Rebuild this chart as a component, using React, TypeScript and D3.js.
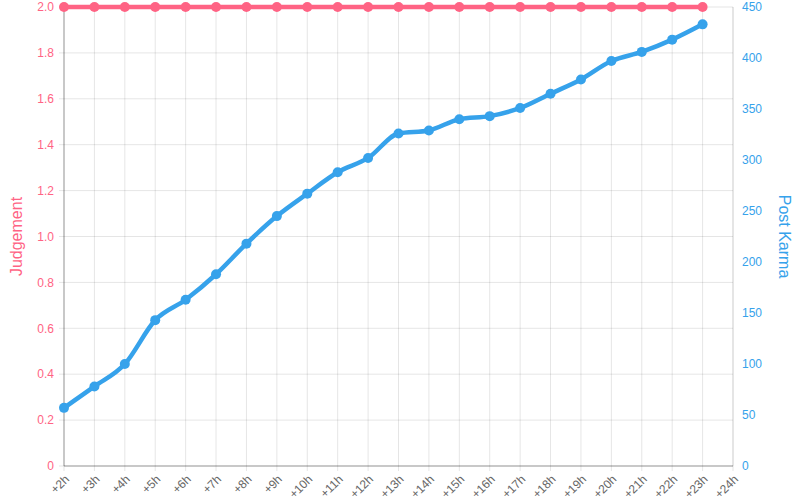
import React from "react";
import * as d3 from "d3";

const labels = ["+2h","+3h","+4h","+5h","+6h","+7h","+8h","+9h","+10h","+11h","+12h","+13h","+14h","+15h","+16h","+17h","+18h","+19h","+20h","+21h","+22h","+23h","+24h"];
const judgement = [2,2,2,2,2,2,2,2,2,2,2,2,2,2,2,2,2,2,2,2,2,2];
const postKarma = [57,78,100,143,163,188,218,245,267,288,302,326,329,340,343,351,365,379,397,406,418,433];
const leftTicks = [0,0.2,0.4,0.6,0.8,1.0,1.2,1.4,1.6,1.8,2.0];
const rightTicks = [0,50,100,150,200,250,300,350,400,450];

const PINK = "#ff6384";
const BLUE = "#36a2eb";
const FONT = "'Liberation Sans', Arial, sans-serif";

export default function App() {
  const W = 800, H = 500;
  const left = 64, right = 733, top = 7, bottom = 466;
  const x = d3.scalePoint<string>().domain(labels).range([left, right]);
  const yL = d3.scaleLinear().domain([0, 2]).range([bottom, top]);
  const yR = d3.scaleLinear().domain([0, 450]).range([bottom, top]);
  const lineL = d3.line<number>().x((_, i) => x(labels[i])!).y(d => yL(d));
  const lineR = d3.line<number>().x((_, i) => x(labels[i])!).y(d => yR(d));
  const fmtL = (v: number) => (v === 0 ? "0" : v.toFixed(1));

  return (
    <svg width={W} height={H} style={{ position: "absolute", left: 0, top: 0 }} fontFamily={FONT}>
      {labels.map(l => (
        <line key={"vg" + l} x1={x(l)} x2={x(l)} y1={top} y2={bottom + 5} stroke="rgba(0,0,0,0.1)" strokeWidth={1} />
      ))}
      {leftTicks.map(t => (
        <line key={"hg" + t} x1={left - 5} x2={right} y1={yL(t)} y2={yL(t)} stroke="rgba(0,0,0,0.1)" strokeWidth={1} />
      ))}
      <line x1={left} x2={left} y1={top} y2={bottom} stroke="rgba(0,0,0,0.35)" />
      <line x1={right} x2={right} y1={top} y2={bottom} stroke="rgba(0,0,0,0.1)" />
      <line x1={left} x2={right} y1={bottom} y2={bottom} stroke="rgba(0,0,0,0.35)" />
      {leftTicks.map(t => (
        <text key={"lt" + t} x={left - 10} y={yL(t)} dy="0.35em" textAnchor="end" fill={PINK} fontSize={12}>{fmtL(t)}</text>
      ))}
      {rightTicks.map(t => (
        <text key={"rt" + t} x={right + 9} y={yR(t)} dy="0.35em" textAnchor="start" fill={BLUE} fontSize={12}>{t}</text>
      ))}
      {labels.map(l => (
        <text key={"xl" + l} transform={`translate(${x(l)! + 3},${bottom + 11}) rotate(-45)`} textAnchor="end" dy="0.35em" fill="#666" fontSize={12}>{l}</text>
      ))}
      <text transform={`translate(22,${(top + bottom) / 2}) rotate(-90)`} textAnchor="middle" fill={PINK} fontSize={16}>Judgement</text>
      <text transform={`translate(779,${(top + bottom) / 2}) rotate(90)`} textAnchor="middle" fill={BLUE} fontSize={16}>Post Karma</text>
      <path d={lineR.curve(d3.curveMonotoneX)(postKarma)!} fill="none" stroke={BLUE} strokeWidth={4.5} />
      {postKarma.map((v, i) => (
        <circle key={"b" + i} cx={x(labels[i])} cy={yR(v)} r={5} fill={BLUE} />
      ))}
      <path d={lineL(judgement)!} fill="none" stroke={PINK} strokeWidth={4.5} />
      {judgement.map((v, i) => (
        <circle key={"p" + i} cx={x(labels[i])} cy={yL(v)} r={5} fill={PINK} />
      ))}
    </svg>
  );
}
